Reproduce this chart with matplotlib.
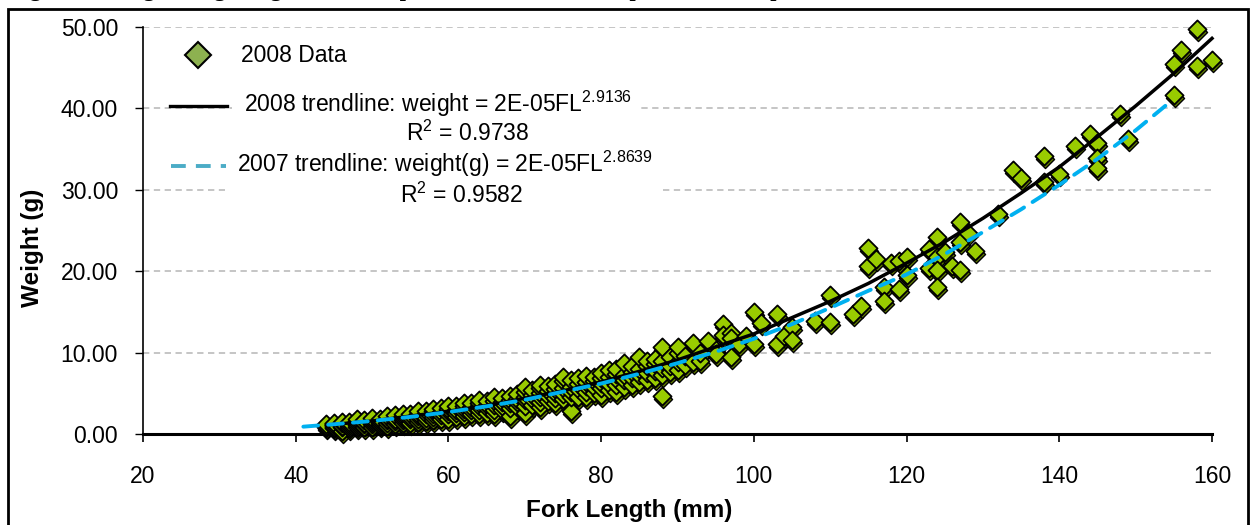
import matplotlib
matplotlib.use("Agg")
import matplotlib.pyplot as plt
from matplotlib.patches import Rectangle
from matplotlib.lines import Line2D
from matplotlib.transforms import offset_copy

plt.rcParams['font.family'] = ['Liberation Sans', 'DejaVu Sans']
plt.rcParams['mathtext.fontset'] = 'custom'
plt.rcParams['mathtext.rm'] = 'Liberation Sans'
plt.rcParams['mathtext.it'] = 'Liberation Sans:italic'
plt.rcParams['mathtext.bf'] = 'Liberation Sans:bold'

# 2008 data: fork length (mm) and weight (g)
fl_2008 = [
    44, 44, 44,
    45, 45, 45, 45,
    46, 46, 46, 46, 46,
    47, 47, 47, 47,
    48, 48, 48, 48, 48,
    49, 49, 49, 49,
    50, 50, 50, 50, 50,
    51, 51, 51, 51,
    52, 52, 52, 52, 52,
    53, 53, 53, 53,
    54, 54, 54, 54, 54,
    55, 55, 55, 55,
    56, 56, 56, 56, 56,
    57, 57, 57, 57,
    58, 58, 58, 58, 58,
    59, 59, 59, 59,
    60, 60, 60, 60, 60,
    61, 61, 61, 61,
    62, 62, 62, 62, 62,
    63, 63, 63, 63,
    64, 64, 64, 64, 64,
    65, 65, 65, 65,
    66, 66, 66, 66, 66,
    67, 67, 67, 67,
    68, 68, 68, 68, 68,
    69, 69, 69, 69,
    70, 70, 70, 70, 70, 70,
    71, 71, 71, 71,
    72, 72, 72, 72, 72, 72,
    73, 73, 73, 73,
    74, 74, 74, 74, 74,
    75, 75, 75, 75, 75,
    76, 76, 76, 76, 76,
    77, 77, 77, 77,
    78, 78, 78, 78, 78,
    79, 79, 79, 79,
    80, 80, 80, 80, 80,
    81, 81, 81, 81,
    82, 82, 82, 82, 82,
    83, 83, 83, 83,
    84, 84, 84, 84,
    85, 85, 85, 85,
    86, 86, 86, 86,
    87, 87, 87, 87,
    88, 88, 88, 88, 88,
    89, 89, 89,
    90, 90, 90, 90,
    91, 91, 92, 92, 93, 93, 94, 95, 95, 96, 96, 97, 97, 97, 98, 99,
    100, 100, 101, 103, 103, 104, 105, 105, 108, 110, 110, 113, 114,
    115, 115, 116, 117, 117, 118, 119, 119, 120, 120,
    123, 123, 124, 124, 124, 124, 125, 126, 127, 127, 127, 128, 129,
    132, 134, 135, 138, 138, 140, 142, 144, 145, 145, 145,
    148, 149, 155, 155, 156, 158, 158, 160,
]
wt_2008 = [
    0.8, 1.0, 1.2,
    0.7, 0.9, 1.1, 1.3,
    0.4, 0.8, 1.0, 1.3, 1.5,
    0.7, 1.0, 1.2, 1.5,
    0.9, 1.1, 1.3, 1.6, 1.8,
    0.8, 1.2, 1.4, 1.7,
    0.9, 1.2, 1.5, 1.7, 2.0,
    1.1, 1.4, 1.6, 1.9,
    1.0, 1.3, 1.7, 1.9, 2.2,
    1.2, 1.6, 1.9, 2.3,
    1.3, 1.7, 2.0, 2.2, 2.5,
    1.4, 1.8, 2.1, 2.5,
    1.5, 1.9, 2.2, 2.5, 2.8,
    1.6, 2.0, 2.4, 2.8,
    1.7, 2.1, 2.5, 2.8, 3.1,
    1.9, 2.3, 2.7, 3.2,
    1.9, 2.4, 2.8, 3.1, 3.5,
    2.1, 2.6, 3.0, 3.4,
    2.2, 2.7, 3.1, 3.4, 3.8,
    2.4, 2.9, 3.3, 3.8,
    2.5, 3.0, 3.4, 3.8, 4.2,
    2.6, 3.2, 3.6, 4.1,
    2.4, 3.0, 3.6, 4.0, 4.5,
    2.9, 3.5, 3.9, 4.4,
    2.2, 3.2, 3.8, 4.2, 4.7,
    3.3, 3.9, 4.3, 4.9,
    2.6, 3.5, 4.2, 4.6, 5.2, 5.8,
    3.6, 4.3, 4.8, 5.4,
    3.3, 3.9, 4.6, 5.0, 5.6, 6.0,
    4.0, 4.7, 5.3, 5.9,
    3.8, 4.4, 5.0, 5.5, 6.2,
    4.3, 4.9, 5.6, 6.5, 7.0,
    2.8, 4.5, 5.2, 5.8, 6.6,
    4.6, 5.5, 6.1, 6.9,
    4.5, 5.2, 5.9, 6.4, 7.1,
    5.0, 5.8, 6.5, 7.0,
    4.8, 5.6, 6.3, 6.9, 7.5,
    5.4, 6.2, 7.0, 7.9,
    5.2, 6.0, 6.8, 7.4, 8.0,
    5.8, 6.6, 7.3, 8.7,
    6.0, 6.9, 7.6, 8.3,
    6.4, 7.2, 8.0, 9.5,
    6.6, 7.5, 8.3, 9.0,
    6.9, 7.8, 8.6, 9.2,
    4.7, 7.2, 8.1, 9.0, 10.7,
    7.6, 8.4, 9.4,
    7.9, 8.9, 10.0, 10.7,
    8.5, 9.6, 8.8, 11.2, 9.0, 10.0, 11.4, 10.3, 9.8, 13.5, 12.2, 12.4, 9.5, 11.8, 11.0, 12.0,
    11.1, 15.0, 13.6, 14.8, 11.1, 12.0, 13.2, 11.5, 13.9, 13.8, 17.1, 14.8, 15.7,
    22.8, 20.6, 21.5, 18.1, 16.3, 21.0, 21.2, 17.8, 21.8, 19.5,
    22.7, 20.4, 24.2, 21.7, 20.1, 18.0, 22.3, 20.6, 26.0, 23.6, 20.1, 24.7, 22.5,
    27.0, 32.4, 31.4, 34.2, 30.9, 32.0, 35.4, 36.9, 35.8, 33.9, 32.7,
    39.3, 36.3, 45.4, 41.6, 47.2, 49.7, 45.2, 46.0,
]

# trendlines as drawn on the chart
fl_trend_2008 = [44, 50, 55, 60, 65, 70, 75, 80, 85, 90, 95, 100, 105, 110,
                 115, 120, 125, 130, 135, 140, 145, 150, 155, 160]
wt_trend_2008 = [1.1, 1.6, 2.2, 2.8, 3.5, 4.4, 5.3, 6.4, 7.7, 9.1, 10.7, 12.3, 14.3, 16.3,
                 18.5, 21.0, 23.6, 26.5, 29.6, 32.8, 36.5, 40.3, 44.3, 48.6]
fl_trend_2007 = [41, 45, 50, 55, 60, 65, 70, 75, 80, 85, 90, 95, 100, 105,
                 110, 115, 120, 125, 130, 135, 140, 145, 150, 154]
wt_trend_2007 = [0.9, 1.2, 1.6, 2.1, 2.7, 3.4, 4.2, 5.2, 6.2, 7.4, 8.7, 10.1, 11.7, 13.5,
                 15.5, 17.6, 19.6, 22.1, 24.8, 27.6, 30.6, 33.8, 37.3, 40.4]

x_ticks = [20, 40, 60, 80, 100, 120, 140, 160]
y_ticks = [0, 10, 20, 30, 40, 50]

label_data = "2008 Data"
label_2008 = "2008 trendline: weight = 2E-05FL$\\mathregular{^{2.9136}}$"
r2_2008 = "R$\\mathregular{^{2}}$ = 0.9738"
label_2007 = "2007 trendline: weight(g) = 2E-05FL$\\mathregular{^{2.8639}}$"
r2_2007 = "R$\\mathregular{^{2}}$ = 0.9582"

green = '#99cc00'
cyan = '#00b0f0'

W, H = 1250, 525
fig = plt.figure(figsize=(12.5, 5.25), dpi=100)
ax = fig.add_axes([143 / W, 1 - 434 / H, (1212 - 143) / W, (434 - 27) / H])

# shadow under the diamonds
shadow = offset_copy(ax.transData, fig=fig, x=1.0, y=-3.0, units='dots')
ax.scatter(fl_2008, wt_2008, marker='D', s=85, facecolor='#5f7a00', edgecolor='black',
           linewidth=1.0, transform=shadow, clip_on=False, zorder=2)
ax.scatter(fl_2008, wt_2008, marker='D', s=85, facecolor=green, edgecolor='black',
           linewidth=1.3, clip_on=False, zorder=3)

ax.plot(fl_trend_2008, wt_trend_2008, color='black', lw=2.5, zorder=4, clip_on=False)
ax.plot(fl_trend_2007, wt_trend_2007, color=cyan, lw=2.8, dashes=(3.8, 2.6),
        dash_capstyle='round', zorder=5)

ax.set_xlim(20, 160)
ax.set_ylim(0, 50)
ax.set_xticks(x_ticks)
ax.set_yticks(y_ticks)
ax.set_yticklabels(['%.2f' % v for v in y_ticks])
ax.tick_params(axis='y', direction='out', length=6, width=1, pad=12, labelsize=16.5)
ax.tick_params(axis='x', direction='out', length=6, width=1.2, pad=16, labelsize=16.5)
for s in ['top', 'right']:
    ax.spines[s].set_visible(False)
ax.spines['left'].set_linewidth(1.2)
ax.spines['bottom'].set_linewidth(2.2)
ax.yaxis.grid(True, color='#c0c0c0', linestyle=(0, (3.5, 2.5)), lw=1.3)
ax.set_axisbelow(True)

# legend drawn by hand to follow the original layout
def ax_x(px):
    return (px - 143) / 1069

def ax_y(py):
    return (434 - py) / 407

# white backgrounds of the trendline labels (they hide the gridlines)
ax.add_patch(Rectangle((ax_x(232), ax_y(118)), ax_x(641) - ax_x(232), ax_y(96) - ax_y(118),
                       transform=ax.transAxes, fc='white', ec='none', zorder=1.5))
ax.add_patch(Rectangle((ax_x(225), ax_y(200)), ax_x(661) - ax_x(225), ax_y(178) - ax_y(200),
                       transform=ax.transAxes, fc='white', ec='none', zorder=1.5))

ax.add_line(Line2D([ax_x(198)], [ax_y(55)], marker='D', ms=13, mfc='#8db150', mec='black',
                   mew=1.5, transform=ax.transAxes, clip_on=False, zorder=6))
ax.add_line(Line2D([ax_x(170), ax_x(227)], [ax_y(106), ax_y(106)], color='black', lw=2.4,
                   transform=ax.transAxes, zorder=6))
ax.add_line(Line2D([ax_x(171), ax_x(226)], [ax_y(166), ax_y(166)], color='#4bacc6', lw=2.8,
                   dashes=(3.8, 2.6), transform=ax.transAxes, zorder=6))
txt = dict(transform=ax.transAxes, fontsize=16.5, va='center', zorder=6)
ax.text(ax_x(241), ax_y(55), label_data, ha='left', **txt)
ax.text(ax_x(244), ax_y(104), label_2008, ha='left', **txt)
ax.text(ax_x(468), ax_y(133), r2_2008, ha='center', **txt)
ax.text(ax_x(237), ax_y(164), label_2007, ha='left', **txt)
ax.text(ax_x(462), ax_y(195), r2_2007, ha='center', **txt)

fig.text(33 / W, 1 - 248 / H, 'Weight (g)', rotation=90, fontsize=17.5, fontweight='bold',
         ha='center', va='center')
fig.text(629 / W, 1 - 510 / H, 'Fork Length (mm)', fontsize=17.5, fontweight='bold',
         ha='center', va='center')

# caption line above the frame, cut off by the image edge
fig.text(10 / W, 1 + 4 / H, 'Figure 7.  Length-weight regression for Spottail Shiner, 2008 compared to 2007, p',
         fontsize=16, fontweight='bold', family='Liberation Serif', ha='left', va='baseline')

fig.patches.append(Rectangle((8 / W, -0.05), (1248 - 8) / W, 0.05 + 1 - 9 / H,
                             transform=fig.transFigure, fill=False, ec='black', lw=2))

fig.savefig('out.png', dpi=100)
